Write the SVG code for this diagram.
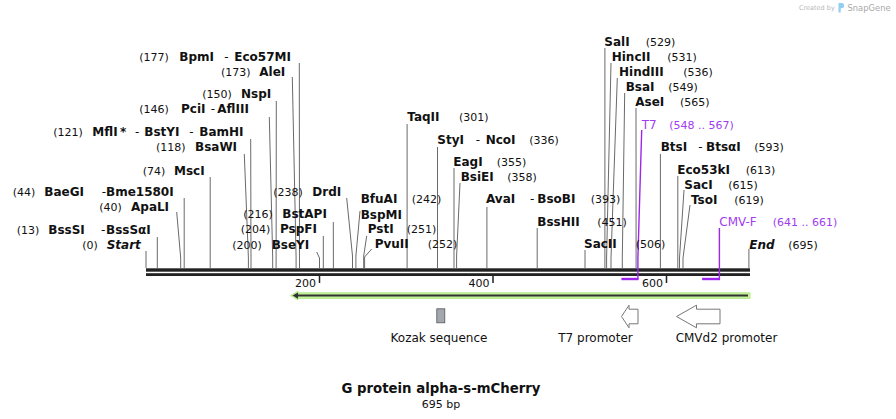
<svg xmlns="http://www.w3.org/2000/svg" width="896" height="419" viewBox="0 0 896 419">
<style>
text{font-family:"DejaVu Sans","Verdana",sans-serif;fill:#111}
.n{font-weight:bold;font-size:12px}
.p{font-size:11px}
.d{font-size:12px}
.it{font-style:italic}
.pu{fill:#a13cf0}
.pn{font-size:12px}
.ln{fill:none;stroke:#6a6a6a;stroke-width:1}
.pl{fill:none;stroke:#9d26ea;stroke-width:1.4}
.ph{fill:none;stroke:#9d26ea;stroke-width:2.4}
.lab{font-size:12px}
.wm{font-size:6.5px;fill:#b8b8b8}
</style>
<rect width="896" height="419" fill="#fff"/>
<!-- watermark -->
<g id="watermark">
<text class="wm" x="799" y="10">Created by</text>
<path d="M838.5 3 h3 a2.6 2.6 0 0 1 0 5.2 h-0.8 v4.3 h-2.2 z" fill="#8fcdf3"/>
<text class="wm" x="847.5" y="10.5" style="font-size:8.4px;fill:#a8a8a8">SnapGene</text>
</g>
<!-- sequence bar -->
<g id="backbone">
<rect x="146" y="268.3" width="604" height="3.4" fill="#222"/>
<rect x="146" y="273.2" width="604" height="2.8" fill="#222"/>
<path d="M319.5 276 V283 M493 276 V283 M666.5 276 V283" stroke="#222" stroke-width="1.5"/>
<text class="p" x="316" y="286.5" text-anchor="end">200</text>
<text class="p" x="489.5" y="286.5" text-anchor="end">400</text>
<text class="p" x="663" y="286.5" text-anchor="end">600</text>
</g>
<!-- connectors -->
<g id="connectors">
<polyline class="ln" points="146,251 146,268"/>
<polyline class="ln" points="157.3,237 157.3,268"/>
<polyline class="ln" points="176.7,212 180.7,258 180.7,268"/>
<polyline class="ln" points="184.2,198 184.2,268"/>
<polyline class="ln" points="210.2,177 210.2,268"/>
<polyline class="ln" points="244.3,154 248.4,258 248.4,268"/>
<polyline class="ln" points="250.7,139 251,258 251,268"/>
<polyline class="ln" points="269.3,117 272.7,258 272.7,268"/>
<polyline class="ln" points="276.3,101 276.1,268"/>
<polyline class="ln" points="292.3,77 296.1,258 296.1,268"/>
<polyline class="ln" points="299.3,63 299.5,268"/>
<polyline class="ln" points="316.7,252 319.5,258 319.5,268"/>
<polyline class="ln" points="323.3,236 323.3,268"/>
<polyline class="ln" points="333.3,222 333.4,268"/>
<polyline class="ln" points="346.7,198 352.5,256 352.5,268"/>
<polyline class="ln" points="360,211 355.9,256 355.9,268"/>
<polyline class="ln" points="366.7,236 363.7,256 363.7,268"/>
<polyline class="ln" points="371.7,249 364.6,257 364.6,268"/>
<polyline class="ln" points="407.1,124 407.1,268"/>
<polyline class="ln" points="437.5,147 437.5,268"/>
<polyline class="ln" points="454,168 454,268"/>
<polyline class="ln" points="460,183 456.6,256 456.6,268"/>
<polyline class="ln" points="486.9,207 486.9,268"/>
<polyline class="ln" points="537.2,228 537.2,268"/>
<polyline class="ln" points="585,250 585,268"/>
<polyline class="ln" points="604.9,48 604.9,268"/>
<polyline class="ln" points="611,63 606.6,258 606.6,268"/>
<polyline class="ln" points="617.3,78 611,258 611,268"/>
<polyline class="ln" points="624.7,93 622.3,258 622.3,268"/>
<polyline class="ln" points="636,108 636.1,268"/>
<polyline class="ln" points="660.4,154 660.4,268"/>
<polyline class="ln" points="677.8,176 677.8,268"/>
<polyline class="ln" points="684,190 679.5,258 679.5,268"/>
<polyline class="ln" points="690,205 683,258 683,268"/>
<polyline class="ln" points="748.9,249 748.9,268"/>
<polyline class="pl" points="641.7,130 637.9,258 637.9,279.5"/>
<path class="ph" d="M621.4 279 H638.5"/>
<polyline class="pl" points="719.4,228 719.4,279.5"/>
<path class="ph" d="M702.1 279 H720"/>
</g>
<!-- enzyme labels -->
<g id="Start"><text x="82.3" y="249"><tspan class="p">(0)</tspan><tspan class="n it" x="106.7">Start</tspan></text></g>
<g id="BssSI"><text x="16.7" y="234"><tspan class="p">(13)</tspan><tspan class="n" x="48.3">BssSI</tspan><tspan class="d" x="101">-</tspan><tspan class="n" x="106">BssSαI</tspan></text></g>
<g id="ApaLI"><text x="99.3" y="210.7"><tspan class="p">(40)</tspan><tspan class="n" x="131">ApaLI</tspan></text></g>
<g id="BaeGI"><text x="12.7" y="195.7"><tspan class="p">(44)</tspan><tspan class="n" x="44.3">BaeGI</tspan><tspan class="d" x="101.7">-</tspan><tspan class="n" x="106">Bme1580I</tspan></text></g>
<g id="MscI"><text x="142.7" y="175"><tspan class="p">(74)</tspan><tspan class="n" x="174">MscI</tspan></text></g>
<g id="BsaWI"><text x="156" y="150.7"><tspan class="p">(118)</tspan><tspan class="n" x="195">BsaWI</tspan></text></g>
<g id="MflI"><text x="53.3" y="135.7"><tspan class="p">(121)</tspan><tspan class="n" x="92.3">MflI</tspan><tspan class="n" x="120">*</tspan><tspan class="d" x="135">-</tspan><tspan class="n" x="144.3">BstYI</tspan><tspan class="d" x="189.3">-</tspan><tspan class="n" x="199.3">BamHI</tspan></text></g>
<g id="PciI"><text x="139.3" y="113.3"><tspan class="p">(146)</tspan><tspan class="n" x="181">PciI</tspan><tspan class="d" x="210.7">-</tspan><tspan class="n" x="217.3">AflIII</tspan></text></g>
<g id="NspI"><text x="202.3" y="98.3"><tspan class="p">(150)</tspan><tspan class="n" x="241">NspI</tspan></text></g>
<g id="AleI"><text x="221" y="75.7"><tspan class="p">(173)</tspan><tspan class="n" x="259.3">AleI</tspan></text></g>
<g id="BpmI"><text x="139.3" y="60.7"><tspan class="p">(177)</tspan><tspan class="n" x="179.3">BpmI</tspan><tspan class="d" x="224.3">-</tspan><tspan class="n" x="234.3">Eco57MI</tspan></text></g>
<g id="BseYI"><text x="232.3" y="249"><tspan class="p">(200)</tspan><tspan class="n" x="271.7">BseYI</tspan></text></g>
<g id="PspFI"><text x="240.7" y="233.3"><tspan class="p">(204)</tspan><tspan class="n" x="280">PspFI</tspan></text></g>
<g id="BstAPI"><text x="243.3" y="217.7"><tspan class="p">(216)</tspan><tspan class="n" x="282.3">BstAPI</tspan></text></g>
<g id="DrdI"><text x="273.3" y="195.7"><tspan class="p">(238)</tspan><tspan class="n" x="312.3">DrdI</tspan></text></g>
<g id="BfuAI"><text x="360.7" y="203.3"><tspan class="n">BfuAI</tspan><tspan class="p" x="411.7">(242)</tspan></text></g>
<g id="BspMI"><text x="360.7" y="219"><tspan class="n">BspMI</tspan></text></g>
<g id="PstI"><text x="367.7" y="233.3"><tspan class="n">PstI</tspan><tspan class="p" x="406.7">(251)</tspan></text></g>
<g id="PvuII"><text x="374.7" y="248.3"><tspan class="n">PvuII</tspan><tspan class="p" x="427.7">(252)</tspan></text></g>
<g id="TaqII"><text x="407.3" y="120.7"><tspan class="n">TaqII</tspan><tspan class="p" x="459">(301)</tspan></text></g>
<g id="StyI"><text x="437.3" y="144"><tspan class="n">StyI</tspan><tspan class="d" x="475.7">-</tspan><tspan class="n" x="485.7">NcoI</tspan><tspan class="p" x="529.3">(336)</tspan></text></g>
<g id="EagI"><text x="453.3" y="165.7"><tspan class="n">EagI</tspan><tspan class="p" x="496.7">(355)</tspan></text></g>
<g id="BsiEI"><text x="460.7" y="180.7"><tspan class="n">BsiEI</tspan><tspan class="p" x="507.3">(358)</tspan></text></g>
<g id="AvaI"><text x="486" y="203.3"><tspan class="n">AvaI</tspan><tspan class="d" x="530">-</tspan><tspan class="n" x="537.3">BsoBI</tspan><tspan class="p" x="590.7">(393)</tspan></text></g>
<g id="BssHII"><text x="537.3" y="225.7"><tspan class="n">BssHII</tspan><tspan class="p" x="597.3">(451)</tspan></text></g>
<g id="SacII"><text x="584" y="248.3"><tspan class="n">SacII</tspan><tspan class="p" x="635.7">(506)</tspan></text></g>
<g id="SalI"><text x="604.3" y="45.7"><tspan class="n">SalI</tspan><tspan class="p" x="645.7">(529)</tspan></text></g>
<g id="HincII"><text x="611.7" y="60.7"><tspan class="n">HincII</tspan><tspan class="p" x="667.3">(531)</tspan></text></g>
<g id="HindIII"><text x="619" y="75.7"><tspan class="n">HindIII</tspan><tspan class="p" x="683.3">(536)</tspan></text></g>
<g id="BsaI"><text x="625.7" y="90.7"><tspan class="n">BsaI</tspan><tspan class="p" x="668.3">(549)</tspan></text></g>
<g id="AseI"><text x="635.3" y="105.7"><tspan class="n">AseI</tspan><tspan class="p" x="680">(565)</tspan></text></g>
<g id="T7"><text class="pu" x="641.7" y="129.3"><tspan class="pn pu">T7</tspan><tspan class="p pu" x="669.3">(548 .. 567)</tspan></text></g>
<g id="BtsI"><text x="660.7" y="150.7"><tspan class="n">BtsI</tspan><tspan class="d" x="698.3">-</tspan><tspan class="n" x="706">BtsαI</tspan><tspan class="p" x="754.3">(593)</tspan></text></g>
<g id="Eco53kI"><text x="677.3" y="174"><tspan class="n">Eco53kI</tspan><tspan class="p" x="745.7">(613)</tspan></text></g>
<g id="SacI"><text x="684.3" y="189"><tspan class="n">SacI</tspan><tspan class="p" x="728.3">(615)</tspan></text></g>
<g id="TsoI"><text x="691" y="204"><tspan class="n">TsoI</tspan><tspan class="p" x="734.3">(619)</tspan></text></g>
<g id="CMV-F"><text class="pu" x="719.3" y="225.7"><tspan class="pn pu">CMV-F</tspan><tspan class="p pu" x="772.7">(641 .. 661)</tspan></text></g>
<g id="End"><text x="749.3" y="249"><tspan class="n it">End</tspan><tspan class="p" x="788.3">(695)</tspan></text></g>
<!-- features -->
<g id="gene-feature">
<path d="M750 292.8 H298 V291.2 L290.6 295.6 L298 300 V298.4 H750 Z" fill="#c3f39b" stroke="#a9e67a" stroke-width="0.8"/>
<path d="M748 295.6 H297" stroke="#333" stroke-width="2"/>
<path d="M292.5 295.6 L298 292.5 V298.7 Z" fill="#333"/>
</g>
<g id="Kozak">
<rect x="436.8" y="308.8" width="8" height="14" fill="#a3a7ae" stroke="#555" stroke-width="0.8"/>
<text class="lab" x="439" y="342" text-anchor="middle">Kozak sequence</text>
</g>
<g id="T7promoter">
<path d="M621.5 316.5 L629 305.2 V309.2 H638 V323.8 H629 V327.8 Z" fill="#fff" stroke="#777" stroke-width="1"/>
<text class="lab" x="595.5" y="342" text-anchor="middle">T7 promoter</text>
</g>
<g id="CMVd2promoter">
<path d="M676.5 316.5 L696.5 305.2 V309.2 H720 V323.8 H696.5 V327.8 Z" fill="#fff" stroke="#777" stroke-width="1"/>
<text class="lab" x="726.5" y="342" text-anchor="middle">CMVd2 promoter</text>
</g>
<g id="title">
<text x="441" y="393" text-anchor="middle" style="font-weight:bold;font-size:13.3px">G protein alpha-s-mCherry</text>
<text x="441" y="408" text-anchor="middle" style="font-size:11px">695 bp</text>
</g>
</svg>
